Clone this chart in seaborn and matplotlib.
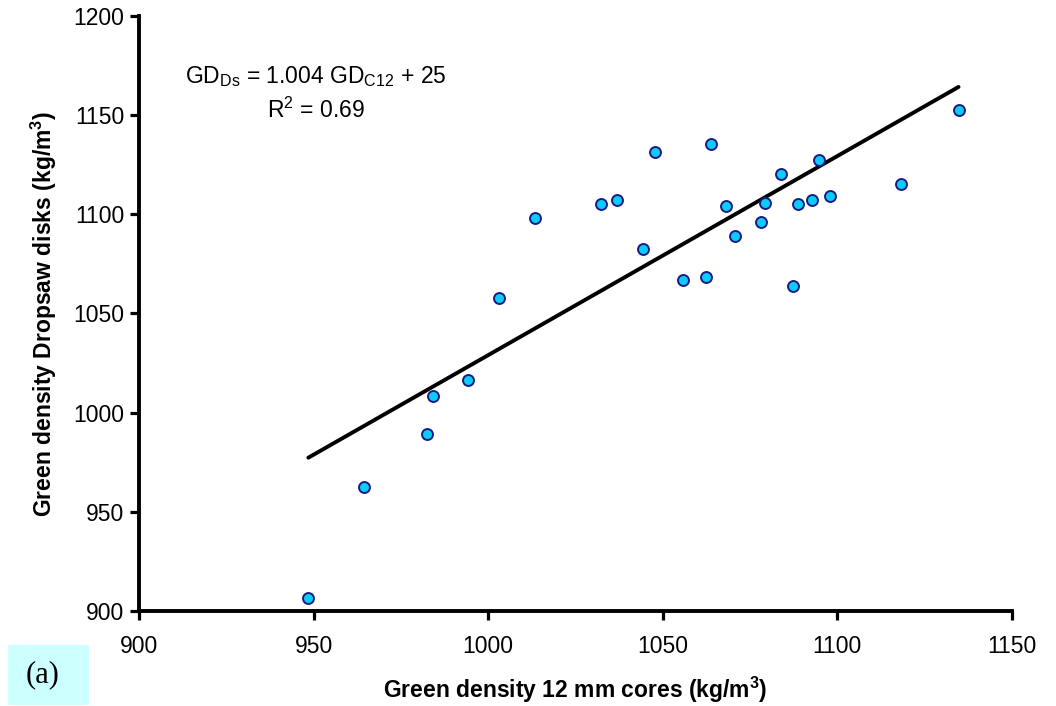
import matplotlib
matplotlib.use("Agg")
import matplotlib.pyplot as plt
from matplotlib.patches import Rectangle
import seaborn as sns
import numpy as np
import pandas as pd

# Data
cores_12mm = [948.5, 964.3, 982.6, 984.3, 994.1, 1003.2, 1013.4, 1032.4, 1036.9,
              1047.9, 1063.7, 1044.2, 1055.9, 1062.4, 1068.2, 1070.7, 1079.4,
              1078.2, 1083.9, 1087.2, 1088.8, 1092.7, 1094.6, 1097.8, 1118.1, 1134.7]
dropsaw_disks = [906.4, 962.6, 989.1, 1008.4, 1016.4, 1058.0, 1098.0, 1105.2, 1107.2,
                 1131.6, 1135.5, 1082.5, 1066.9, 1068.4, 1104.2, 1089.1, 1105.9,
                 1096.1, 1120.3, 1063.8, 1105.2, 1107.2, 1127.4, 1109.2, 1115.3, 1152.6]
slope = 1.004
intercept = 25
x_ticks = [900, 950, 1000, 1050, 1100, 1150]
y_ticks = [900, 950, 1000, 1050, 1100, 1150, 1200]

sns.set_theme(style="white")
plt.rcParams['font.family'] = ['Liberation Sans', 'DejaVu Sans']
plt.rcParams['mathtext.fontset'] = 'custom'
plt.rcParams['mathtext.rm'] = 'Liberation Sans'
plt.rcParams['mathtext.it'] = 'Liberation Sans:italic'
plt.rcParams['mathtext.bf'] = 'Liberation Sans:bold'
plt.rcParams['text.color'] = 'black'
plt.rcParams['axes.labelcolor'] = 'black'

df = pd.DataFrame({"x": cores_12mm, "y": dropsaw_disks})
xs = np.array([min(cores_12mm), max(cores_12mm)])
line_df = pd.DataFrame({"x": xs, "y": slope * xs + intercept})

fig = plt.figure(figsize=(10.56, 7.06), dpi=100)
ax = fig.add_axes([0.1316, 0.1346, 0.9583 - 0.1316, 0.9773 - 0.1346])

sns.lineplot(data=line_df, x="x", y="y", ax=ax, color="black", linewidth=2.8, zorder=2)
sns.scatterplot(data=df, x="x", y="y", ax=ax, s=62, color="#0ACDF7",
                edgecolor="#1A1A80", linewidth=1.4, zorder=3)

ax.set_xlim(900, 1150)
ax.set_ylim(900, 1200)
ax.set_xticks(x_ticks)
ax.set_yticks(y_ticks)
ax.tick_params(axis="both", direction="out", length=6.5, width=2.3, labelsize=16.5,
               colors="black", bottom=True, left=True)
ax.tick_params(axis="x", pad=11)
ax.tick_params(axis="y", pad=4)
for side in ["top", "right"]:
    ax.spines[side].set_visible(False)
for side in ["left", "bottom"]:
    ax.spines[side].set_linewidth(2.8)
    ax.spines[side].set_color("black")

ax.set_xlabel("Green density 12 mm cores (kg/m$^{\\mathbf{3}}$)", fontsize=16.5,
              fontweight="bold", labelpad=12)
ax.set_ylabel("Green density Dropsaw disks (kg/m$^{\\mathbf{3}}$)", fontsize=16.5,
              fontweight="bold", labelpad=10)

ax.text(0.203, 0.899, "GD$_{\\mathrm{Ds}}$ = 1.004 GD$_{\\mathrm{C12}}$ + 25",
        transform=ax.transAxes, ha="center", va="center", fontsize=16.5)
ax.text(0.203, 0.842, "R$^{2}$ = 0.69", transform=ax.transAxes,
        ha="center", va="center", fontsize=16.5)

fig.patches.append(Rectangle((8 / 1056, 1 / 706), 81 / 1056, 60 / 706,
                             transform=fig.transFigure, facecolor="#CCFFFF",
                             edgecolor="none", zorder=0))
fig.text(43 / 1056, 1 - 675 / 706, "(a)", fontsize=22, family="Liberation Serif",
         ha="center", va="center")

fig.savefig("out.png", dpi=100)
